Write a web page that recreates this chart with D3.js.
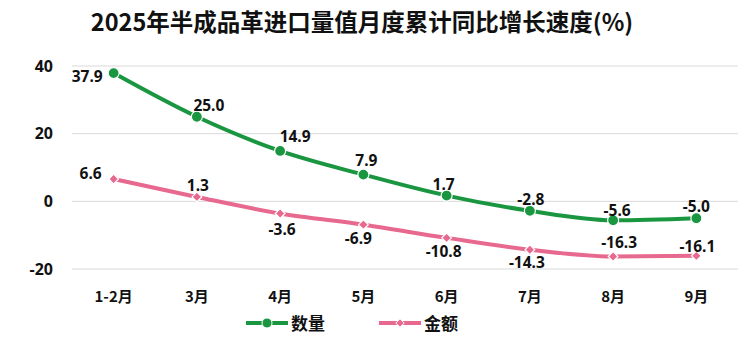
<!DOCTYPE html>
<html><head><meta charset="utf-8">
<script src="https://cdn.jsdelivr.net/npm/d3@7"></script>
<style>body{margin:0;background:#fff;} text{font-family:"Noto Sans CJK SC","Noto Sans",sans-serif;}</style>
</head><body>
<svg id="c" width="750" height="342"></svg>
<script>
const categories = ["1-2月","3月","4月","5月","6月","7月","8月","9月"];
const quantity = [37.9,25.0,14.9,7.9,1.7,-2.8,-5.6,-5.0];
const amount = [6.6,1.3,-3.6,-6.9,-10.8,-14.3,-16.3,-16.1];
const yTicks = [40,20,0,-20];
const seriesNames = ["数量","金额"];
const title = "2025年半成品革进口量值月度累计同比增长速度(%)";

const svg = d3.select("#c");
const x = d3.scaleBand().domain(categories).range([72,738]);
const y = d3.scaleLinear().domain([-20,40]).range([269,66]);
const cx = c => x(c) + x.bandwidth()/2;

svg.append("text").attr("x",362).attr("y",31).attr("text-anchor","middle")
  .attr("font-size",23.5).attr("font-weight","bold").attr("fill","#111").text(title);

// grid
svg.append("g").selectAll("line").data(yTicks).join("line")
  .attr("x1",72).attr("x2",738).attr("y1",d=>y(d)).attr("y2",d=>y(d))
  .attr("stroke","#d9d9d9").attr("stroke-width",1);

const yAxis = d3.axisLeft(y).tickValues(yTicks).tickSize(0).tickPadding(0).tickFormat(d=>String(d));
const gy = svg.append("g").attr("transform","translate(53,0)").call(yAxis);
gy.select(".domain").remove();
gy.selectAll("text").attr("font-size",16).attr("font-weight","bold").attr("fill","#111")
  .style("font-family","'Noto Sans','Noto Sans CJK SC',sans-serif");

const xAxis = d3.axisBottom(x).tickSize(0).tickPadding(0);
const gx = svg.append("g").attr("transform","translate(0,291)").call(xAxis);
gx.select(".domain").remove();
gx.selectAll("text").attr("font-size",15).attr("font-weight","bold").attr("fill","#111");

const green = "#1a9641", pink = "#e8698f";
const line = d3.line().x((d,i)=>cx(categories[i])).y(d=>y(d)).curve(d3.curveMonotoneX);

svg.append("path").datum(quantity).attr("d",line).attr("fill","none").attr("stroke",green).attr("stroke-width",4).attr("stroke-linecap","round");
svg.append("path").datum(amount).attr("d",line).attr("fill","none").attr("stroke",pink).attr("stroke-width",4).attr("stroke-linecap","round");

svg.append("g").selectAll("circle").data(quantity).join("circle")
  .attr("cx",(d,i)=>cx(categories[i])).attr("cy",d=>y(d)).attr("r",5.5)
  .attr("fill",green).attr("stroke","#fff").attr("stroke-width",1.2);

const diamond = d3.symbol().type(d3.symbolDiamond2).size(60);
svg.append("g").selectAll("path").data(amount).join("path")
  .attr("d",diamond).attr("transform",(d,i)=>`translate(${cx(categories[i])},${y(d)})`)
  .attr("fill",pink).attr("stroke","#fff").attr("stroke-width",1.2);

// labels: [dx, dy(baseline), anchor]
const qOff = [[-11,8.5,"end"],[12,-5.5],[15,-9],[3,-8.5],[-3,-5.5],[1,-6],[4,-4],[0,-6]];
const aOff = [[-12,-0.5,"end"],[1,-5.5],[2,21],[-5,19],[-3,19],[-3,18],[6,-8],[1,-3.5]];
function labels(data, off){
  svg.append("g").selectAll("text").data(data).join("text")
    .attr("x",(d,i)=>cx(categories[i])+off[i][0]).attr("y",(d,i)=>y(d)+off[i][1])
    .attr("text-anchor",(d,i)=>off[i][2]||"middle").attr("font-size",15.5).attr("font-weight","bold").attr("fill","#111")
    .style("font-family","'Noto Sans',sans-serif").text(d=>d.toFixed(1));
}
labels(quantity,qOff);
labels(amount,aOff);

// legend
const lg = svg.append("g");
[[246,green,"c"],[379,pink,"d"]].forEach(([lx,col,t],k)=>{
  lg.append("line").attr("x1",lx).attr("x2",lx+42).attr("y1",323).attr("y2",323).attr("stroke",col).attr("stroke-width",4);
  if(t==="c") lg.append("circle").attr("cx",lx+21).attr("cy",323).attr("r",5).attr("fill",col).attr("stroke","#fff").attr("stroke-width",1);
  else lg.append("path").attr("d",d3.symbol().type(d3.symbolDiamond2).size(45)).attr("transform",`translate(${lx+21},323)`).attr("fill",col).attr("stroke","#fff").attr("stroke-width",1);
  lg.append("text").attr("x",lx+45).attr("y",329.5).attr("font-size",17).attr("font-weight","bold").attr("fill","#111").text(seriesNames[k]);
});
</script>
</body></html>
